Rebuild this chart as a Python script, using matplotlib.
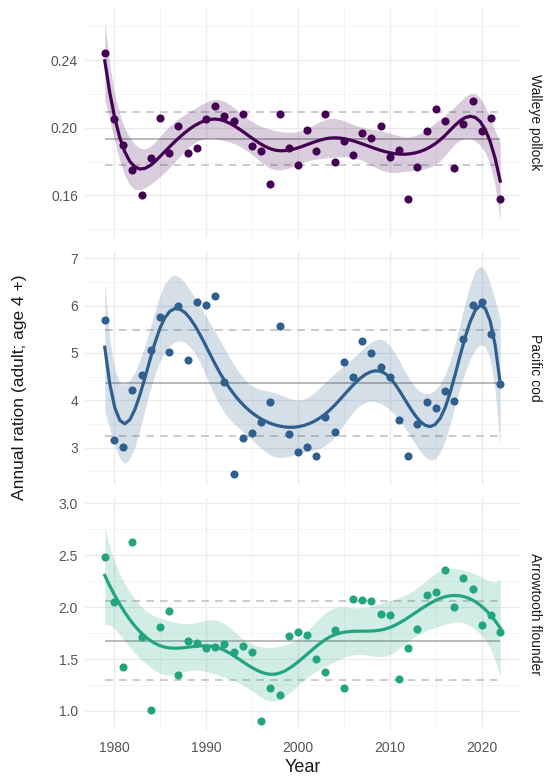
import matplotlib
matplotlib.use("Agg")
import matplotlib.pyplot as plt
import numpy as np

plt.rcParams['font.family'] = ['Liberation Sans', 'DejaVu Sans']

# ---- data ----
years = np.arange(1979, 2023)

pollock = [0.244, 0.205, 0.190, 0.175, 0.160, 0.182, 0.206, 0.185, 0.201, 0.185,
           0.188, 0.205, 0.213, 0.207, 0.204, 0.208, 0.189, 0.186, 0.167, 0.208,
           0.188, 0.178, 0.199, 0.186, 0.208, 0.180, 0.192, 0.184, 0.197, 0.194,
           0.201, 0.183, 0.187, 0.158, 0.177, 0.198, 0.211, 0.204, 0.176, 0.202,
           0.216, 0.198, 0.206, 0.158]
cod = [5.70, 3.15, 3.02, 4.21, 4.54, 5.05, 5.75, 5.01, 6.00, 4.85,
       6.08, 6.01, 6.20, 4.39, 2.44, 3.21, 3.31, 3.54, 3.97, 5.57,
       3.28, 2.91, 3.02, 2.83, 3.65, 3.32, 4.80, 4.49, 5.24, 5.00,
       4.71, 4.49, 3.58, 2.82, 3.49, 3.97, 3.84, 4.19, 3.99, 5.30,
       6.01, 6.08, 5.39, 4.35]
flounder = [2.48, 2.05, 1.42, 2.63, 1.71, 1.01, 1.81, 1.96, 1.35, 1.67,
            1.65, 1.61, 1.62, 1.64, 1.57, 1.63, 1.57, 0.90, 1.22, 1.15,
            1.72, 1.76, 1.73, 1.50, 1.38, 1.78, 1.22, 2.08, 2.07, 2.06,
            1.93, 1.92, 1.31, 1.61, 1.79, 2.12, 2.15, 2.36, 2.00, 2.28,
            2.17, 1.83, 1.92, 1.76]

species = ['Walleye pollock', 'Pacific cod', 'Arrowtooth flounder']
series = [pollock, cod, flounder]
colors = ['#440154', '#2F5F8E', '#22A57F']
# mean and mean +/- sd reference lines
ref_mean = [0.1935, 4.37, 1.677]
ref_lo = [0.1779, 3.25, 1.299]
ref_hi = [0.2094, 5.49, 2.059]
ylims = [(0.1348, 0.2715), (2.23, 7.13), (0.817, 3.05)]
major_ticks = [[0.16, 0.20, 0.24], [3, 4, 5, 6, 7], [1.0, 1.5, 2.0, 2.5, 3.0]]
minor_ticks = [[0.14, 0.18, 0.22, 0.26], [2.5, 3.5, 4.5, 5.5, 6.5], [1.25, 1.75, 2.25, 2.75]]
tick_fmt = ['{:.2f}', '{:.0f}', '{:.1f}']
smooth_lam = [None, None, 0.01]  # None -> chosen by GCV


def bspline(x, lo, hi, nseg=7, deg=3):
    dx = (hi - lo) / nseg
    knots = lo + dx * np.arange(-deg, nseg + deg + 1)
    B = ((x[:, None] >= knots[None, :-1]) & (x[:, None] < knots[None, 1:])).astype(float)
    for d in range(1, deg + 1):
        left = (x[:, None] - knots[None, :-(d + 1)]) / (knots[d:-1] - knots[:-(d + 1)])
        right = (knots[None, d + 1:] - x[:, None]) / (knots[d + 1:] - knots[1:-d])
        B = left * B[:, :-1] + right * B[:, 1:]
    return B


def smooth_fit(x, y, xg, lam_fixed=None):
    # penalised cubic spline (gam-like smoother with a confidence band)
    lo, hi = x.min() - 1e-6, x.max() + 1e-6
    B = bspline(x, lo, hi)
    Bg = bspline(xg, lo, hi)
    k = B.shape[1]
    D = np.diff(np.eye(k), 2, axis=0)
    P = D.T @ D
    n = len(y)
    lams = [lam_fixed] if lam_fixed is not None else 10.0 ** np.arange(-4, 4, 0.1)
    best = None
    for lam in lams:
        A = np.linalg.inv(B.T @ B + lam * P)
        H = B @ A @ B.T
        res = y - H @ y
        edf = np.trace(H)
        gcv = n * (res @ res) / (n - edf) ** 2
        if best is None or gcv < best[0]:
            best = (gcv, A, edf, res)
    _, A, edf, res = best
    coef = A @ B.T @ y
    sig2 = (res @ res) / (n - edf)
    V = sig2 * A
    fit = Bg @ coef
    se = np.sqrt(np.sum((Bg @ V) * Bg, axis=1))
    return fit, 2.0 * se


W, H = 546, 780
fig = plt.figure(figsize=(W / 100, H / 100), dpi=100)
left, right = 85, 520
panel_px = [(7, 238), (252, 484), (498, 730)]
axes = [fig.add_axes([left / W, 1 - b / H, (right - left) / W, (b - t) / H])
        for t, b in panel_px]

xg = np.linspace(1979, 2022, 80)
for i, (ax, name, vals, col, m, lo, hi, yl, mt, mn, fmt, lam) in enumerate(zip(
        axes, species, series, colors, ref_mean, ref_lo, ref_hi,
        ylims, major_ticks, minor_ticks, tick_fmt, smooth_lam)):
    y = np.array(vals)
    fit, band = smooth_fit(years.astype(float), y, xg, lam)
    ax.fill_between(xg, fit - band, fit + band, color=col, alpha=0.2, lw=0, zorder=2)
    ax.hlines(m, years[0], years[-1], color='#A6A6A6', lw=1.1, zorder=1)
    ax.hlines([lo, hi], years[0], years[-1], color='#BDBDBD', lw=1.1,
              linestyles=(0, (5, 4)), zorder=1)
    ax.scatter(years, y, s=34, color=col, zorder=3, lw=0)
    ax.plot(xg, fit, color=col, lw=2.3, zorder=4)

    ax.set_xlim(1976.85, 2024.15)
    ax.set_ylim(*yl)
    ax.set_yticks(mt)
    ax.set_yticklabels([fmt.format(v) for v in mt])
    ax.set_yticks(mn, minor=True)
    ax.set_xticks([1980, 1990, 2000, 2010, 2020])
    ax.set_xticks([1985, 1995, 2005, 2015], minor=True)
    if i < 2:
        ax.tick_params(labelbottom=False)
    ax.grid(which='major', color='#EBEBEB', lw=0.9)
    ax.grid(which='minor', color='#F2F2F2', lw=0.6)
    ax.set_axisbelow(True)
    for s in ax.spines.values():
        s.set_visible(False)
    ax.tick_params(which='both', length=0, labelsize=10, labelcolor='#555555', pad=5)
    ax.tick_params(axis='x', pad=8)
    ax.text(1.035, 0.5, name, transform=ax.transAxes, rotation=-90,
            ha='center', va='center', fontsize=10, color='#1A1A1A')

axes[-1].set_xlabel('Year', fontsize=13, color='#1A1A1A', labelpad=3)
fig.text(0.035, 0.503, 'Annual ration (adult; age 4 +)', rotation=90,
         ha='center', va='center', fontsize=12.5, color='#1A1A1A')

fig.savefig('out.png', dpi=100)
